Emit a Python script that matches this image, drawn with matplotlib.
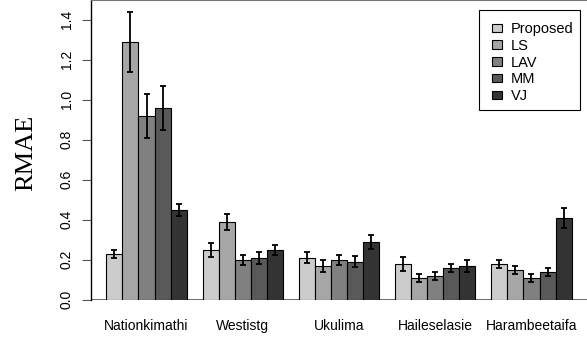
import numpy as np
import matplotlib.pyplot as plt
from matplotlib.patches import Patch, Rectangle

# data
sites = ["Nationkimathi", "Westistg", "Ukulima", "Haileselasie", "Harambeetaifa"]
methods = ["Proposed", "LS", "LAV", "MM", "VJ"]
rmae = {
    "Proposed": [0.23, 0.25, 0.21, 0.18, 0.18],
    "LS":       [1.29, 0.39, 0.17, 0.11, 0.15],
    "LAV":      [0.92, 0.20, 0.20, 0.12, 0.11],
    "MM":       [0.96, 0.21, 0.19, 0.16, 0.14],
    "VJ":       [0.45, 0.25, 0.29, 0.17, 0.41],
}
err = {
    "Proposed": [0.02, 0.035, 0.027, 0.035, 0.02],
    "LS":       [0.15, 0.04, 0.03, 0.02, 0.02],
    "LAV":      [0.11, 0.025, 0.025, 0.02, 0.02],
    "MM":       [0.11, 0.03, 0.027, 0.02, 0.02],
    "VJ":       [0.03, 0.025, 0.035, 0.03, 0.05],
}
greys = ["#cccccc", "#a6a6a6", "#808080", "#595959", "#333333"]

W, H = 587, 338
fig = plt.figure(figsize=(W / 100, H / 100), dpi=100)
ax = fig.add_axes([91 / W, 38.3 / H, 1 - 91 / W, 1 - 38.3 / H])

# R style beside barplot: bar width 1, one bar gap between groups
for j, m in enumerate(methods):
    left = np.arange(len(sites)) * 6 + 1 + j
    ax.bar(left + 0.5, rmae[m], width=1, color=greys[j], edgecolor="black",
           linewidth=0.8, zorder=2)
    ax.errorbar(left + 0.5, rmae[m], yerr=err[m], fmt="none", ecolor="black",
                elinewidth=1.3, capsize=2, capthick=1.3, zorder=3)

ax.axhline(0, color="#555555", lw=1.2, zorder=1)
ax.set_xlim(0.04, 30.96)
ax.set_ylim(0, 1.4985)

ax.set_xticks(np.arange(len(sites)) * 6 + 3.5)
ax.set_xticklabels(sites, fontsize=10, fontfamily="Liberation Sans")
ax.tick_params(axis="x", length=0, pad=14)

ax.set_yticks(np.arange(0, 1.41, 0.2))
ax.set_yticklabels([f"{v:.1f}" for v in np.arange(0, 1.41, 0.2)],
                   rotation=90, va="center", fontsize=10,
                   fontfamily="Liberation Sans")
ax.tick_params(axis="y", length=6.5, width=0.8, color="#555555", pad=6)

for s in ["right", "bottom"]:
    ax.spines[s].set_visible(False)
ax.spines["top"].set_color("#777777")
ax.spines["left"].set_color("black")
ax.spines["left"].set_linewidth(1)

fig.text(26 / W, 1 - 153 / H, "RMAE", rotation=90, ha="center", va="center",
         fontsize=19, fontfamily="Liberation Serif")

# legend: entries without frame, box drawn separately (R style padding)
handles = [Patch(facecolor=g, edgecolor="black", linewidth=0.8) for g in greys]
leg = ax.legend(handles, methods, loc="upper left",
                bbox_to_anchor=(492 / W, 1 - 22 / H), bbox_transform=fig.transFigure,
                borderaxespad=0, borderpad=0, frameon=False,
                prop={"family": "Liberation Sans", "size": 10.5},
                handlelength=0.7, handleheight=0.5, labelspacing=0.19,
                handletextpad=0.6)
fig.patches.append(Rectangle((479 / W, 1 - 110 / H), 101 / W, 100 / H,
                             transform=fig.transFigure, fill=False,
                             edgecolor="black", linewidth=0.8))

fig.savefig("out.png", dpi=100)
